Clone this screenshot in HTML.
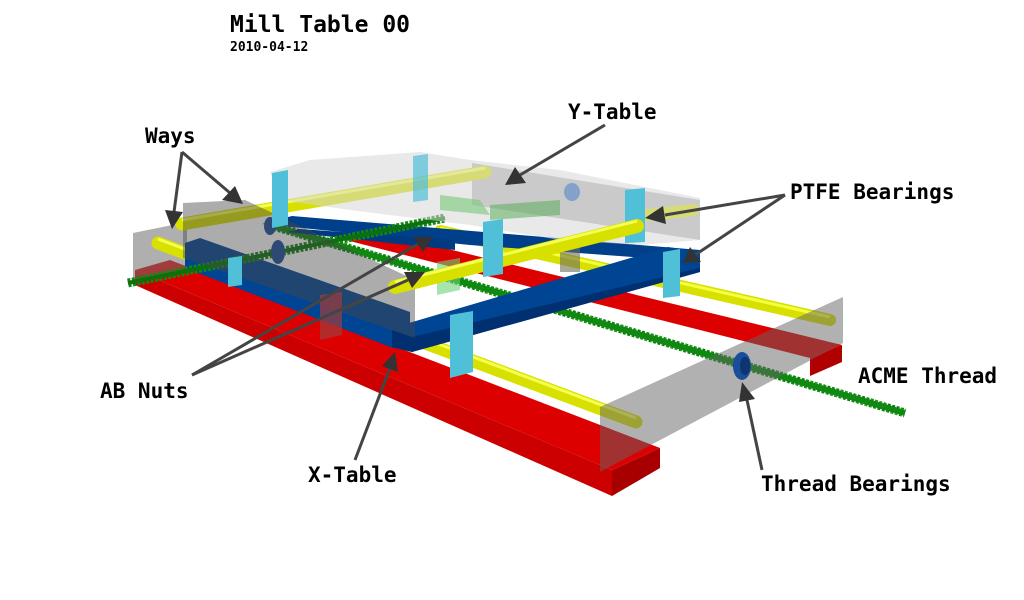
<!DOCTYPE html>
<html><head><meta charset="utf-8"><style>
html,body{margin:0;padding:0;background:#fff;}
svg{display:block;}
text{font-family:"DejaVu Sans Mono","Liberation Mono",monospace;font-weight:bold;fill:#000;}
</style></head><body>
<svg width="1024" height="600" viewBox="0 0 1024 600" xmlns="http://www.w3.org/2000/svg">
<defs>
<pattern id="thr" width="5" height="10" patternUnits="userSpaceOnUse">
<rect width="5" height="10" fill="#0a7a0a"/><rect width="2.5" height="10" fill="#1fa01f"/>
</pattern>
</defs>
<text x="230" y="32" font-size="23">Mill Table 00</text>
<text x="230" y="51" font-size="13">2010-04-12</text>

<!-- red rails -->
<polygon points="330,236 370,230 842,345 810,358" fill="#dd0000"/>
<polygon points="810,358 842,345 842,362 810,376" fill="#b00000"/>
<polygon points="135,270 170,260 660,448 612,470" fill="#dd0000"/>
<polygon points="135,270 612,470 612,496 135,285" fill="#cc0000"/>
<polygon points="612,470 660,448 660,468 612,496" fill="#a80000"/>

<!-- back X rod -->
<line x1="440" y1="231" x2="830" y2="320" stroke="#d8e000" stroke-width="12" stroke-linecap="round"/>
<line x1="440" y1="228" x2="830" y2="317" stroke="#f4ff40" stroke-width="3"/>
<!-- long thread -->
<line x1="270" y1="225" x2="905" y2="413" stroke="url(#thr)" stroke-width="9" stroke-dasharray="3 1.5"/>
<line x1="270" y1="225" x2="905" y2="413" stroke="#118811" stroke-width="6"/>

<!-- left gray plate -->
<polygon points="133,233 187,222 187,268 133,283" fill="rgba(110,110,110,0.55)"/>
<!-- Y-table back gray plate -->
<polygon points="472,163 700,200 700,240 472,205" fill="rgba(120,120,120,0.5)"/>

<!-- front X rod (under blue frame) -->
<line x1="158" y1="243" x2="636" y2="422" stroke="#d8e000" stroke-width="13" stroke-linecap="round"/>
<line x1="158" y1="239" x2="636" y2="418" stroke="#f4ff50" stroke-width="3"/>

<!-- blue frame -->
<polygon points="262,224 292,216 700,250 700,262 470,245" fill="#003f8a"/>
<polygon points="287,232 300,229 455,240 455,250" fill="#003a80"/>
<polygon points="185,243 200,238 410,312 410,350 393,348 185,268" fill="#004494"/>
<polygon points="392,328 668,247 700,252 700,272 412,352 392,347" fill="#004494"/>
<polygon points="392,347 412,352 700,272 700,268 412,337 392,330" fill="#003070"/>

<!-- back Y rod -->
<line x1="182" y1="224" x2="485" y2="172" stroke="#d8e000" stroke-width="13" stroke-linecap="round"/>
<line x1="182" y1="220" x2="485" y2="168" stroke="#f4ff50" stroke-width="3"/>
<line x1="640" y1="216" x2="693" y2="210" stroke="#d8e000" stroke-width="12" stroke-linecap="round"/>

<!-- left thread -->
<line x1="128" y1="283" x2="445" y2="218" stroke="#118811" stroke-width="9" stroke-dasharray="3 1.5"/>
<line x1="128" y1="283" x2="445" y2="218" stroke="#0c700c" stroke-width="4"/>
<ellipse cx="278" cy="252" rx="7" ry="12" fill="#1a4d9a"/>
<ellipse cx="270" cy="226" rx="6" ry="9" fill="#1a4d9a"/>

<!-- Y-table front translucent plate -->
<polygon points="183,203 245,200 415,280 415,338 183,258" fill="rgba(70,70,70,0.45)"/>

<!-- Y table light top -->
<polygon points="270,172 310,160 420,152 470,160 560,170 700,198 700,240 640,245 560,240 470,225 350,210 280,200" fill="rgba(215,215,215,0.55)"/>
<polygon points="440,195 480,200 490,215 440,210" fill="rgba(120,200,120,0.6)"/>
<polygon points="490,205 560,200 560,215 490,220" fill="rgba(80,170,80,0.5)"/>
<ellipse cx="572" cy="192" rx="8" ry="9" fill="rgba(60,120,200,0.5)"/>

<!-- cyan plates -->
<polygon points="272,173 288,170 288,225 272,228" fill="#4fc0d8"/>
<polygon points="413,156 428,154 428,200 413,202" fill="rgba(80,190,215,0.7)"/>
<polygon points="625,190 645,188 645,242 625,243" fill="#4fc0d8"/>
<polygon points="228,258 242,256 242,285 228,287" fill="#4fc0d8"/>
<polygon points="320,295 342,292 342,335 320,340" fill="rgba(160,60,60,0.7)"/>
<polygon points="560,238 580,235 580,272 560,272" fill="rgba(110,110,90,0.6)"/>
<polygon points="437,262 460,258 460,290 437,295" fill="rgba(110,210,120,0.6)"/>

<!-- front Y rod -->
<line x1="395" y1="287" x2="637" y2="226" stroke="#d8e000" stroke-width="14" stroke-linecap="round"/>
<line x1="395" y1="282" x2="637" y2="221" stroke="#f4ff50" stroke-width="3"/>
<polygon points="483,222 503,219 503,274 483,277" fill="#4fc0d8"/>
<polygon points="663,252 680,249 680,296 663,298" fill="#4fc0d8"/>
<polygon points="450,315 473,311 473,372 450,378" fill="#4fc0d8"/>

<!-- right gray plate -->
<polygon points="600,407 843,297 843,343 600,472" fill="rgba(100,100,100,0.5)"/>
<ellipse cx="742" cy="366" rx="9" ry="14" fill="#1a4d9a"/>
<ellipse cx="745" cy="366" rx="5" ry="9" fill="#0f3570"/>

<!-- arrows -->
<g stroke="#444" stroke-width="3" fill="none">
<line x1="182" y1="152" x2="230" y2="193"/>
<line x1="182" y1="152" x2="174" y2="212"/>
<line x1="605" y1="125" x2="520" y2="175"/>
<line x1="785" y1="195" x2="665" y2="215"/>
<line x1="785" y1="195" x2="695" y2="255"/>
<line x1="192" y1="375" x2="418" y2="244"/>
<line x1="192" y1="375" x2="408" y2="280"/>
<line x1="355" y1="460" x2="390" y2="368"/>
<line x1="762" y1="470" x2="747" y2="400"/>
</g>
<g fill="#333">
<polygon points="243,204 222,200 235,186"/>
<polygon points="172,229 165,210 183,212"/>
<polygon points="505,185 515,167 526,183"/>
<polygon points="645,218 663,206 666,224"/>
<polygon points="683,263 690,247 701,262"/>
<polygon points="433,237 413,237 423,252"/>
<polygon points="425,272 404,272 412,288"/>
<polygon points="395,352 398,372 382,366"/>
<polygon points="742,382 755,399 739,402"/>
</g>

<text x="145" y="143" font-size="21">Ways</text>
<text x="568" y="119" font-size="21">Y-Table</text>
<text x="790" y="199" font-size="21">PTFE Bearings</text>
<text x="100" y="398" font-size="21">AB Nuts</text>
<text x="858" y="383" font-size="21">ACME Thread</text>
<text x="308" y="482" font-size="21">X-Table</text>
<text x="761" y="491" font-size="21">Thread Bearings</text>
</svg>
</body></html>
